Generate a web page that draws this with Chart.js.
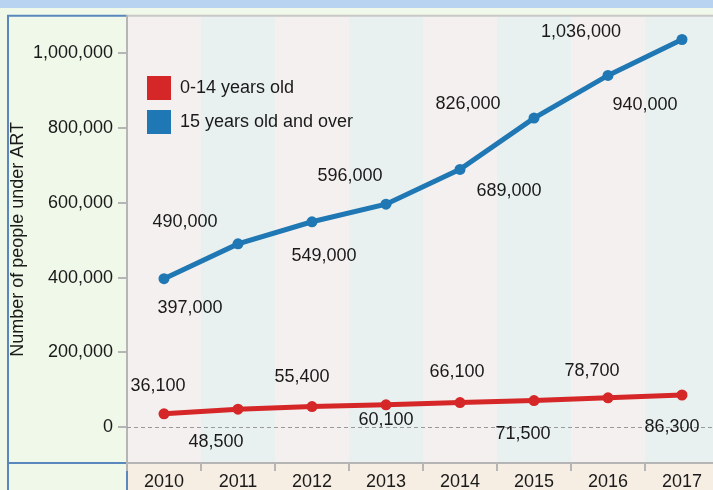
<!DOCTYPE html>
<html lang="en">
<head>
  <meta charset="UTF-8" />
  <title>Number of people under ART</title>
  <script src="https://cdn.jsdelivr.net/npm/chart.js"></script>
  <style>
    html, body { margin: 0; padding: 0; overflow: hidden; background: #eff8e9; }
    canvas { display: block; }
  </style>
</head>
<body>
  <canvas id="artChart" width="740" height="490"></canvas>

  <script>
    // DATA
    const years = ['2010', '2011', '2012', '2013', '2014', '2015', '2016', '2017'];
    const children = [36100, 48500, 55400, 60100, 66100, 71500, 78700, 86300];
    const adults = [397000, 490000, 549000, 596000, 689000, 826000, 940000, 1036000];
    const yTicks = [0, 200000, 400000, 600000, 800000, 1000000];
    const seriesNames = ['0-14 years old', '15 years old and over'];

    const RED = '#d62728';
    const BLUE = '#1f77b4';
    const TEXT = '#1a1a1a';
    const FONT = "'Liberation Sans', Arial, sans-serif";

    // where each value label sits relative to its point (px)
    const labelShift = [
      [[-6, -28], [-22, 33], [-10, -30], [0, 15], [-3, -31], [-11, 34], [-16, -27], [-10, 32]],
      [[26, 29], [-53, -22], [12, 34], [-36, -28], [49, 22], [-66, -14], [37, 30], [-101, -7]]
    ];

    const fmt = v => v.toLocaleString('en-US');

    // backgrounds, zero line, value labels and legend
    const decor = {
      id: 'decor',
      beforeDraw(chart) {
        const { ctx, chartArea: a, scales: { x } } = chart;
        ctx.save();
        ctx.fillStyle = '#b7d3f1';
        ctx.fillRect(0, 0, chart.width, 8);

        const half = (x.getPixelForValue(1) - x.getPixelForValue(0)) / 2;
        years.forEach((yr, i) => {
          const cx = x.getPixelForValue(i);
          ctx.fillStyle = i % 2 ? '#e8f1f0' : '#f4f0ef';
          ctx.fillRect(cx - half, a.top, half * 2, a.bottom - a.top);
        });

        ctx.fillStyle = '#f6ede3';
        ctx.fillRect(a.left, a.bottom, chart.width - a.left, chart.height - a.bottom);

        ctx.strokeStyle = '#c8c8c8';
        ctx.lineWidth = 2;
        ctx.beginPath();
        ctx.moveTo(a.left, a.top);
        ctx.lineTo(chart.width, a.top);
        ctx.stroke();

        ctx.strokeStyle = '#5a87bd';
        ctx.beginPath();
        ctx.moveTo(8, chart.height);
        ctx.lineTo(8, a.top);
        ctx.lineTo(a.left, a.top);
        ctx.moveTo(8, a.bottom);
        ctx.lineTo(a.left, a.bottom);
        ctx.lineTo(a.left, chart.height);
        ctx.stroke();
        ctx.restore();
      },
      beforeDatasetsDraw(chart) {
        const { ctx, chartArea: a, scales: { y } } = chart;
        const y0 = Math.round(y.getPixelForValue(0)) + 0.5;
        ctx.save();
        ctx.strokeStyle = '#9a9a9a';
        ctx.lineWidth = 1;
        ctx.setLineDash([4, 3]);
        ctx.beginPath();
        ctx.moveTo(a.left, y0);
        ctx.lineTo(chart.width, y0);
        ctx.stroke();
        ctx.restore();
      },
      afterDatasetsDraw(chart) {
        const { ctx } = chart;
        ctx.save();
        ctx.font = '18px ' + FONT;
        ctx.fillStyle = TEXT;
        ctx.textAlign = 'center';
        ctx.textBaseline = 'middle';
        chart.data.datasets.forEach((ds, d) => {
          chart.getDatasetMeta(d).data.forEach((pt, i) => {
            const [dx, dy] = labelShift[d][i];
            ctx.fillText(fmt(ds.data[i]), pt.x + dx, pt.y + dy);
          });
        });

        // legend
        ctx.textAlign = 'left';
        chart.data.datasets.forEach((ds, d) => {
          const top = 76 + d * 34;
          ctx.fillStyle = ds.borderColor;
          ctx.fillRect(147, top, 24, 24);
          ctx.fillStyle = TEXT;
          ctx.fillText(ds.label, 180, top + 12);
        });
        ctx.restore();
      }
    };

    Chart.defaults.font.family = FONT;
    Chart.defaults.font.size = 18;
    Chart.defaults.color = TEXT;

    new Chart(document.getElementById('artChart').getContext('2d'), {
      type: 'line',
      data: {
        labels: years,
        datasets: [
          {
            label: seriesNames[0],
            data: children,
            borderColor: RED,
            backgroundColor: RED,
            pointBackgroundColor: RED,
            pointBorderColor: RED,
            borderWidth: 5,
            pointRadius: 5.5,
            pointBorderWidth: 0,
            tension: 0
          },
          {
            label: seriesNames[1],
            data: adults,
            borderColor: BLUE,
            backgroundColor: BLUE,
            pointBackgroundColor: BLUE,
            pointBorderColor: BLUE,
            borderWidth: 5,
            pointRadius: 5.5,
            pointBorderWidth: 0,
            tension: 0
          }
        ]
      },
      options: {
        responsive: false,
        animation: false,
        layout: { padding: { left: 7, top: 12, right: 21, bottom: 0 } },
        plugins: {
          legend: { display: false },
          tooltip: { enabled: false }
        },
        scales: {
          x: {
            offset: true,
            grid: { offset: true, drawOnChartArea: false, tickLength: 8, color: '#b5b5b5', lineWidth: 2 },
            border: { color: '#b5b5b5', width: 2 },
            ticks: { padding: 0, maxRotation: 0 },
            afterFit(s) { s.height = 27; }
          },
          y: {
            min: -95400,
            max: 1099300,
            afterBuildTicks(s) { s.ticks = yTicks.map(v => ({ value: v })); },
            grid: { drawOnChartArea: false, tickLength: 9, color: '#b5b5b5', lineWidth: 2 },
            border: { color: '#b5b5b5', width: 2 },
            ticks: { padding: 5, callback: v => fmt(v) },
            title: { display: true, text: 'Number of people under ART', padding: 0 },
            afterFit(s) { s.width = 120; }
          }
        }
      },
      plugins: [decor]
    });
  </script>
</body>
</html>
